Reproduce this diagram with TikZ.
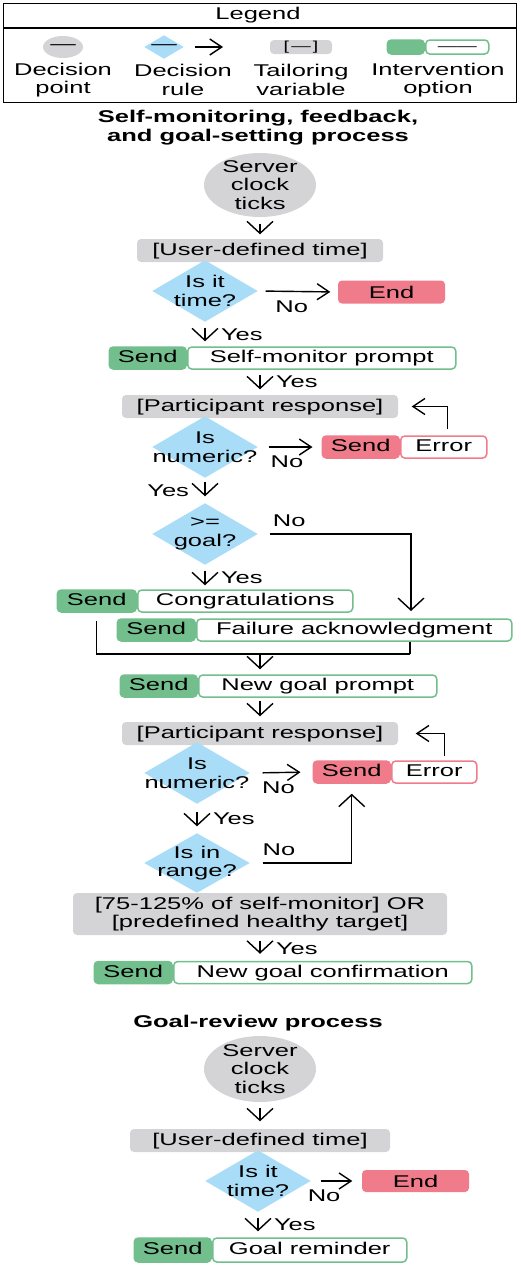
\documentclass[tikz,border=0pt]{standalone}
\usepackage{fontspec}
\setmainfont{Liberation Sans}[FakeStretch=1.5]
\usepackage{tikz}
\usetikzlibrary{shapes,arrows.meta,positioning}
\definecolor{tgrey}{HTML}{D4D4D6}
\definecolor{rblue}{HTML}{A9DDF7}
\definecolor{ogreen}{HTML}{72BF8D}
\definecolor{ered}{HTML}{F07B8A}
\tikzstyle{clock} = [ellipse, fill=tgrey, inner sep=-10pt, align=center, minimum width=112pt, minimum height=64pt]
\tikzstyle{decision} = [diamond, fill=rblue, inner sep=0pt, minimum width=106pt, minimum height=62pt]
\tikzstyle{tailor} = [rectangle, rounded corners=4pt, fill=tgrey, inner sep=0pt, minimum height=23pt, text height=12.5pt, text depth=3.5pt]
\tikzstyle{tailorbig} = [rectangle, rounded corners=4pt, fill=tgrey, inner sep=0pt, align=center]
\tikzstyle{sendg} = [rectangle, rounded corners=4pt, fill=ogreen, draw=ogreen, line width=1.5pt, inner sep=0pt, minimum height=22pt, text height=12.5pt, text depth=3.5pt]
\tikzstyle{optg} = [rectangle, rounded corners=4pt, fill=white, draw=ogreen, line width=1.5pt, inner sep=0pt, minimum height=22pt, text height=12.5pt, text depth=3.5pt]
\tikzstyle{sendr} = [sendg, fill=ered, draw=ered]
\tikzstyle{optr} = [optg, draw=ered]
\tikzstyle{endbox} = [rectangle, rounded corners=4pt, fill=ered, inner sep=0pt, minimum width=107pt, minimum height=23pt]
\tikzstyle{heading} = [font=\fontsize{17}{19}\selectfont\bfseries, align=center]
\tikzstyle{vflow} = [-{Straight Barb[length=12pt,width=26pt]}]
\tikzstyle{hflow} = [-{Straight Barb[length=12pt,width=16pt]}]

\begin{document}
\begin{tikzpicture}[x=1pt, y=-1pt, line width=1.4pt, font=\fontsize{17}{18.5}\selectfont]
 \useasboundingbox (0,0) rectangle (520,1266);
 % legend
    \node [draw, line width=1.4pt, inner sep=0pt, minimum width=513pt, minimum height=99pt, anchor=north west] (legend) at (3,3) {};
    \draw [line width=1.4pt] ([yshift=-25pt]legend.north west) -- ([yshift=-25pt]legend.north east);
    \node (legendtxt) at (258,15) {Legend};
    \node [clock, minimum width=40pt, minimum height=22pt] (lgpoint) at (63,47) {\textemdash};
    \node [decision, minimum width=40pt, minimum height=24pt, label=center:\textemdash] (lgrule) at (164,47) {};
    \coordinate (lgtail) at (195,47);
    \coordinate (lghead) at (223,47);
    \draw [hflow] (lgtail) -- (lghead);
    \node [tailor, minimum width=62pt, minimum height=14pt, text height=9pt, text depth=2pt, font=\fontsize{13}{14}\selectfont] (lgvar) at (301,47) {[\,\textemdash\,]};
    \node [optg, minimum width=63pt, minimum height=14pt, text height=9pt, text depth=2pt, font=\fontsize{13}{14}\selectfont, anchor=west] (lgopt) at (425,47) {\textemdash\textemdash};
    \node [sendg, minimum width=37pt, minimum height=14pt, text height=9pt, text depth=2pt, left=0pt of lgopt] (lgsend) {};
    \node [align=center] (lgpointtxt) at (63,80) {Decision\\point};
    \node [align=center] (lgruletxt) at (183,80) {Decision\\rule};
    \node [align=center] (lgvartxt) at (301,80) {Tailoring\\variable};
    \node [align=center] (lgopttxt) at (438,80) {Intervention\\option};
 % self-monitoring, feedback and goal-setting
    \node [heading] (headinga) at (258,127.5) {Self-monitoring, feedback,\\and goal-setting process};
    \node [clock] (clocka) at (260,185) {Server\\clock\\ticks};
    \node [tailor, minimum width=246pt] (timea) at (260,250.5) {[User-defined time]};
    \node [decision, label={[align=center]center:Is it\\time?}] (istimea) at (205,291) {};
    \node [endbox] (enda) at (391.5,292) {End};
    \node [optg, minimum width=268pt, anchor=west] (smopt) at (187,358) {Self-monitor prompt};
    \node [sendg, minimum width=77pt, left=0pt of smopt] (smsend) {Send};
    \node [tailor, minimum width=276pt] (respa) at (260,406.5) {[Participant response]};
    \node [decision, label={[align=center]center:Is\\numeric?}] (numa) at (205,447) {};
    \node [optr, minimum width=86pt, anchor=west] (erropta) at (400,447) {Error};
    \node [sendr, minimum width=77pt, left=0pt of erropta] (errsenda) {Send};
    \node [decision, label={[align=center]center:{>=\\goal?}}] (goalq) at (205,534) {};
    \node [optg, minimum width=215pt, anchor=west] (congopt) at (137,601) {Congratulations};
    \node [sendg, minimum width=79pt, left=0pt of congopt] (congsend) {Send};
    \node [optg, minimum width=315pt, anchor=west] (failopt) at (196,630) {Failure acknowledgment};
    \node [sendg, minimum width=78pt, left=0pt of failopt] (failsend) {Send};
    \coordinate (failin) at (411,619);
    \coordinate (mergeR) at (410,654);
    \node [optg, minimum width=238pt, anchor=west] (ngopt) at (198,686) {New goal prompt};
    \node [sendg, minimum width=77pt, left=0pt of ngopt] (ngsend) {Send};
    \node [tailor, minimum width=276pt] (respb) at (260,733.5) {[Participant response]};
    \node [decision, label={[align=center]center:Is\\numeric?}] (numb) at (197,773) {};
    \node [optr, minimum width=85pt, anchor=west] (erroptb) at (391,772) {Error};
    \node [sendr, minimum width=77pt, left=0pt of erroptb] (errsendb) {Send};
    \node [decision, minimum height=60pt, label={[align=center]center:Is in\\range?}] (rangeq) at (197,863) {};
    \node [tailorbig, minimum width=374pt, minimum height=42pt] (rangevar) at (260,914) {[75-125\% of self-monitor] OR\\{[}predefined healthy target{]}};
    \node [optg, minimum width=298pt, anchor=west] (ncopt) at (173,972.5) {New goal confirmation};
    \node [sendg, minimum width=78pt, left=0pt of ncopt] (ncsend) {Send};
 % goal review
    \node [heading] (headingb) at (258,1023) {Goal-review process};
    \node [clock, minimum height=66pt] (clockb) at (260,1069) {Server\\clock\\ticks};
    \node [tailor, minimum width=260pt] (timeb) at (260,1140.5) {[User-defined time]};
    \node [decision, label={[align=center]center:Is it\\time?}] (istimeb) at (258,1181) {};
    \node [endbox, minimum height=22pt] (endb) at (415.5,1181) {End};
    \node [optg, minimum width=194pt, minimum height=24pt, anchor=west] (gropt) at (212,1250) {Goal reminder};
    \node [sendg, minimum width=77pt, minimum height=24pt, left=0pt of gropt] (grsend) {Send};
 % edges
    \draw [vflow, shorten <=6pt, shorten >=4pt] (clocka.south) -- (timea.north);
    \draw [hflow, shorten <=7pt, shorten >=7pt] (istimea.east) -- node[below=5pt, pos=0.42] {No} (enda.west);
    \draw [vflow, shorten <=5pt, shorten >=5pt] (istimea.south) -- node[right=12pt] {Yes} (istimea.south |- smopt.north);
    \draw [vflow, shorten <=5pt, shorten >=5pt] (smopt.south -| respa.north) -- node[right=12pt] {Yes} (respa.north);
    \draw [hflow, shorten <=10pt, shorten >=9pt] (numa.east) -- node[below=5pt, pos=0.45] {No} (errsenda.west);
    \draw [hflow, shorten <=6pt, shorten >=13pt] ([xshift=4pt]erropta.north) |- (respa.east);
    \draw [vflow, shorten <=3pt, shorten >=6pt] (numa.south) -- node[left=12pt] {Yes} (goalq.north);
    \draw [vflow, shorten <=11pt, shorten >=8pt] (goalq.east) -| node[above=3pt, pos=0.1] {No} (failin);
    \draw [vflow, shorten <=5pt, shorten >=4pt] (goalq.south) -- node[right=12pt] {Yes} (goalq.south |- congopt.north);
    \draw [shorten <=8pt] (congsend.south) |- (mergeR);
    \draw (failopt.south -| mergeR) -- (mergeR);
    \draw [vflow, shorten >=5pt] (respb.north |- mergeR) -- (respb.north |- ngopt.north);
    \draw [vflow, shorten <=3pt, shorten >=5pt] (ngopt.south -| respb.north) -- (respb.north);
    \draw [hflow, shorten <=12pt, shorten >=12pt] (numb.east) -- node[below=5pt, pos=0.45] {No} (errsendb.west);
    \draw [hflow, shorten <=4pt, shorten >=17pt] ([xshift=10pt]erroptb.north) |- (respb.east);
    \draw [vflow, shorten <=7pt, shorten >=6pt] (numb.south) -- node[right=12pt] {Yes} (rangeq.north);
    \draw [vflow, shorten <=12pt, shorten >=10pt] (rangeq.east) -| node[above=3pt, pos=0.14] {No} (errsendb.south);
    \draw [vflow, shorten <=5pt, shorten >=7pt] (rangevar.south) -- node[right=12pt] {Yes} (rangevar.south |- ncopt.north);
    \draw [vflow, shorten <=5pt, shorten >=7pt] (clockb.south) -- (timeb.north);
    \draw [hflow, shorten <=9pt, shorten >=9pt] (istimeb.east) -- node[below=5pt, pos=0.25] {No} (endb.west);
    \draw [vflow, shorten <=5pt, shorten >=6pt] (istimeb.south) -- node[right=12pt] {Yes} (istimeb.south |- gropt.north);

\end{tikzpicture}
\end{document}
